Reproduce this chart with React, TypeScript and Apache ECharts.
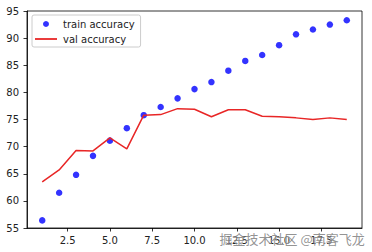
import React, { useEffect, useRef } from "react";
import * as echarts from "echarts";

const epochs = [1, 2, 3, 4, 5, 6, 7, 8, 9, 10, 11, 12, 13, 14, 15, 16, 17, 18, 19];
const trainAcc = [56.4, 61.5, 64.8, 68.3, 71.1, 73.4, 75.8, 77.3, 78.9, 80.6, 81.9, 84.0, 85.8, 86.9, 88.7, 90.7, 91.6, 92.5, 93.3];
const valAcc = [63.5, 65.7, 69.3, 69.2, 71.6, 69.6, 75.8, 75.9, 77.0, 76.9, 75.5, 76.8, 76.8, 75.6, 75.5, 75.3, 75.0, 75.3, 75.0];
const xTicks = [2.5, 5.0, 7.5, 10.0, 12.5, 15.0, 17.5];
const seriesNames = ["train accuracy", "val accuracy"];
const watermark = "掘金技术社区 @南客飞龙";

const FONT = "DejaVu Sans";
const RED = "#e82626";

export default function App() {
  const ref = useRef<HTMLDivElement>(null);
  useEffect(() => {
    if (!ref.current) return;
    const chart = echarts.init(ref.current, null, { renderer: "svg" });
    chart.setOption({
      animation: false,
      backgroundColor: "#ffffff",
      grid: {
        left: 27,
        right: 10,
        top: 11,
        bottom: 24,
        show: true,
        borderColor: "#000",
        borderWidth: 0.8,
        backgroundColor: "transparent",
      },
      xAxis: {
        type: "value",
        min: 0.1,
        max: 19.9,
        splitLine: { show: false },
        axisLine: { show: true, onZero: false, lineStyle: { color: "#000", width: 0.8 } },
        axisTick: { show: true, length: 3.5, customValues: xTicks, lineStyle: { color: "#000", width: 0.8 } },
        axisLabel: {
          customValues: xTicks,
          formatter: (v: number) => v.toFixed(1),
          color: "#222",
          fontFamily: FONT,
          fontSize: 10,
          margin: 7,
        },
      },
      yAxis: {
        type: "value",
        min: 55,
        max: 95,
        interval: 5,
        splitLine: { show: false },
        axisLine: { show: true, onZero: false, lineStyle: { color: "#000", width: 0.8 } },
        axisTick: { show: true, length: 3.5, lineStyle: { color: "#000", width: 0.8 } },
        axisLabel: { color: "#222", fontFamily: FONT, fontSize: 10, margin: 8 },
      },
      legend: {
        left: 32,
        top: 15,
        orient: "vertical",
        itemWidth: 22,
        itemHeight: 6,
        itemGap: 3,
        padding: [3, 6, 2, 3],
        borderColor: "#cccccc",
        borderWidth: 1,
        borderRadius: 2,
        backgroundColor: "rgba(255,255,255,0.8)",
        textStyle: { fontFamily: FONT, fontSize: 10, color: "#222", lineHeight: 12, padding: [0, 0, 0, 1] },
        data: [
          { name: seriesNames[0], icon: "circle" },
          { name: seriesNames[1], icon: "path://M0,0H22V1.8H0Z", itemStyle: { color: RED } },
        ],
      },
      series: [
        {
          name: seriesNames[0],
          type: "scatter",
          symbol: "circle",
          symbolSize: 6.5,
          itemStyle: { color: "#0000ff" },
          data: epochs.map((e, i) => [e, trainAcc[i]]),
          z: 2,
        },
        {
          name: seriesNames[1],
          type: "line",
          symbol: "none",
          showSymbol: false,
          lineStyle: { color: RED, width: 1.5 },
          itemStyle: { color: RED },
          data: epochs.map((e, i) => [e, valAcc[i]]),
          z: 3,
        },
      ],
      graphic: [
        {
          type: "text",
          left: 219,
          top: 231,
          z: 100,
          style: {
            text: watermark,
            fontFamily: "Noto Sans CJK SC",
            fontSize: 13,
            fill: "rgba(100,100,100,0.7)",
            stroke: "rgba(255,255,255,0.5)",
            lineWidth: 1,
          },
        },
      ],
    });
    return () => chart.dispose();
  }, []);
  return (
    <div style={{ position: "fixed", left: 0, top: 0, width: 372, height: 252, background: "#fff" }}>
      <div ref={ref} style={{ width: 372, height: 252 }} />
    </div>
  );
}
